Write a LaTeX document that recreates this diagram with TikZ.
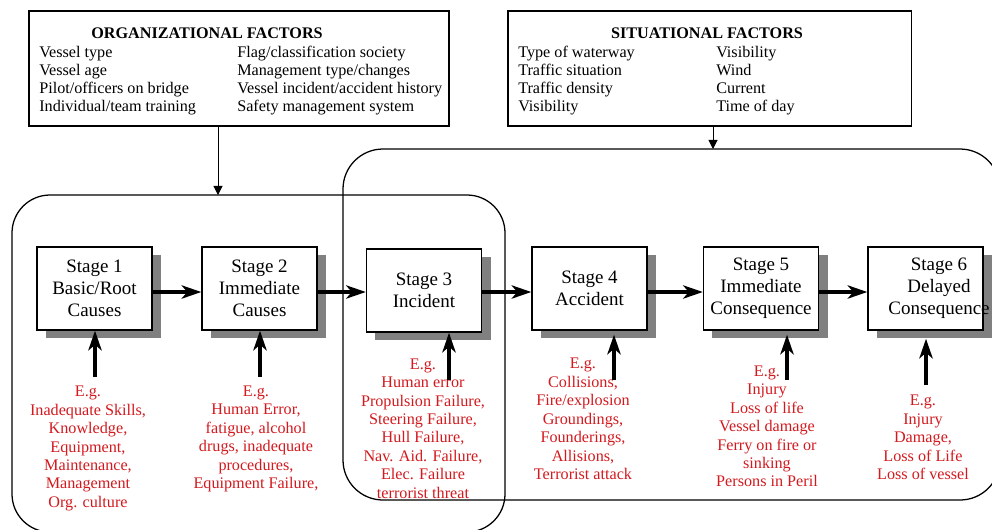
\documentclass[tikz,border=0pt]{standalone}
\usepackage{fontspec}
\setmainfont{Liberation Serif}
\usepackage{tikz}
\usetikzlibrary{arrows.meta, positioning, shadows}
\definecolor{egred}{RGB}{210,25,30}

\begin{document}
\begin{tikzpicture}[x=0.025cm, y=-0.025cm,
    stagebox/.style={draw, line width=1pt, fill=white, minimum width=2.875cm, minimum height=2.075cm,
        align=center, inner sep=0pt, font=\fontsize{13.5}{15.6}\selectfont,
        drop shadow={shadow xshift=0.225cm, shadow yshift=-0.2cm, fill=gray, opacity=1}},
    stagetext/.style={align=center, inner sep=0pt, font=\fontsize{13.5}{15.6}\selectfont},
    factorbox/.style={draw, line width=0.8pt, minimum height=2.875cm, inner sep=0pt},
    listtext/.style={align=left, inner sep=0pt, font=\fontsize{11.5}{12.9}\selectfont},
    egtext/.style={align=center, inner sep=0pt, text=egred, font=\fontsize{11.5}{13.1}\selectfont},
    flow/.style={line width=2.2pt, -{Stealth[length=14pt, width=9.5pt, inset=4pt]}},
    feed/.style={line width=0.7pt, -{Triangle[length=6.5pt, width=6.5pt]}}]
    % Page
    \useasboundingbox (0,0) rectangle (992,529);

    % Phase frames
    \draw[line width=0.9pt, rounded corners=0.95cm] (12,195) rectangle (505,532);
    \draw[line width=0.9pt, rounded corners=1cm] (343,149) rectangle (1000,500);

    % Factor boxes
    \node[factorbox, minimum width=10.5cm] (org) at (239,68.5) {};
    \node[font=\fontsize{11.5}{13.1}\selectfont\bfseries] (orgtitle) at (207,33.5) {ORGANIZATIONAL FACTORS};
    \node[listtext, anchor=west] (orgleft) at (39,80.5) {Vessel type\\Vessel age\\Pilot/officers on bridge\\Individual/team training};
    \node[listtext, anchor=west] (orgright) at (237,80.5) {Flag/classification society\\Management type/changes\\Vessel incident/accident history\\Safety management system};

    \node[factorbox, minimum width=10.075cm] (sit) at (709.5,68.5) {};
    \node[font=\fontsize{11.5}{13.1}\selectfont\bfseries] (sittitle) at (707,33.5) {SITUATIONAL FACTORS};
    \node[listtext, anchor=west] (sitleft) at (518,80.5) {Type of waterway\\Traffic situation\\Traffic density\\Visibility};
    \node[listtext, anchor=west] (sitright) at (716,80.5) {Visibility\\Wind\\Current\\Time of day};

    \coordinate (orgin) at (218,195);
    \coordinate (sitin) at (713,149);
    \draw[feed] (org.south -| orgin) -- (orgin);
    \draw[feed] (sit.south -| sitin) -- (sitin);

    % Stages
    \node[stagebox] (s1) at (94.5,288.5) {Stage 1\\Basic/Root\\Causes};
    \node[stagebox] (s2) at (259.5,288.5) {Stage 2\\Immediate\\Causes};
    \node[stagebox] (s3) at (424,290.5) {Stage 3\\Incident};
    \node[stagebox] (s4) at (589.5,288.5) {Stage 4\\Accident};
    \node[stagebox] (s5) at (761,288.5) {Stage 5\\Immediate\\Consequence};
    \node[stagebox] (s6) at (925.5,288.5) {};
    \node[stagetext] (s6text) at (939,288.5) {Stage 6\\Delayed\\Consequence};

    % Flow between stages
    \coordinate (arr) at (0,292);
    \draw[flow] (s1.east |- arr) -- (s2.west |- arr);
    \draw[flow] (s2.east |- arr) -- (s3.west |- arr);
    \draw[flow] (s3.east |- arr) -- (s4.west |- arr);
    \draw[flow] (s4.east |- arr) -- (s5.west |- arr);
    \draw[flow] (s5.east |- arr) -- (s6.west |- arr);

    % Examples
    \node[egtext] (e1) at (88,448.5) {E.g.\\Inadequate Skills,\\Knowledge,\\Equipment,\\Maintenance,\\Management\\Org. culture};
    \node[egtext] (e2) at (256,439) {E.g.\\Human Error,\\fatigue, alcohol\\drugs, inadequate\\procedures,\\Equipment Failure,};
    \node[egtext] (e3) at (423,428.5) {E.g.\\Human error\\Propulsion Failure,\\Steering Failure,\\Hull Failure,\\Nav. Aid. Failure,\\Elec. Failure\\terrorist threat};
    \node[egtext] (e4) at (583,419) {E.g.\\Collisions,\\Fire/explosion\\Groundings,\\Founderings,\\Allisions,\\Terrorist attack};
    \node[egtext] (e5) at (767,426.5) {E.g.\\Injury\\Loss of life\\Vessel damage\\Ferry on fire or\\sinking\\Persons in Peril};
    \node[egtext] (e6) at (923,437.5) {E.g.\\Injury\\Damage,\\Loss of Life\\Loss of vessel};

    % Example arrows
    \coordinate (c1) at (95,377);
    \coordinate (c2) at (260,377);
    \coordinate (c3) at (449,380);
    \coordinate (c4) at (614,380);
    \coordinate (c5) at (787,380);
    \coordinate (c6) at (926,385);
    \draw[flow] (c1) -- (c1 |- s1.south);
    \draw[flow] (c2) -- (c2 |- s2.south);
    \draw[flow] (c3) -- (c3 |- s3.south);
    \draw[flow, shorten >=0.1cm] (c4) -- (c4 |- s4.south);
    \draw[flow, shorten >=0.1cm] (c5) -- (c5 |- s5.south);
    \draw[flow, shorten >=0.2cm] (c6) -- (c6 |- s6.south);
\end{tikzpicture}
\end{document}
